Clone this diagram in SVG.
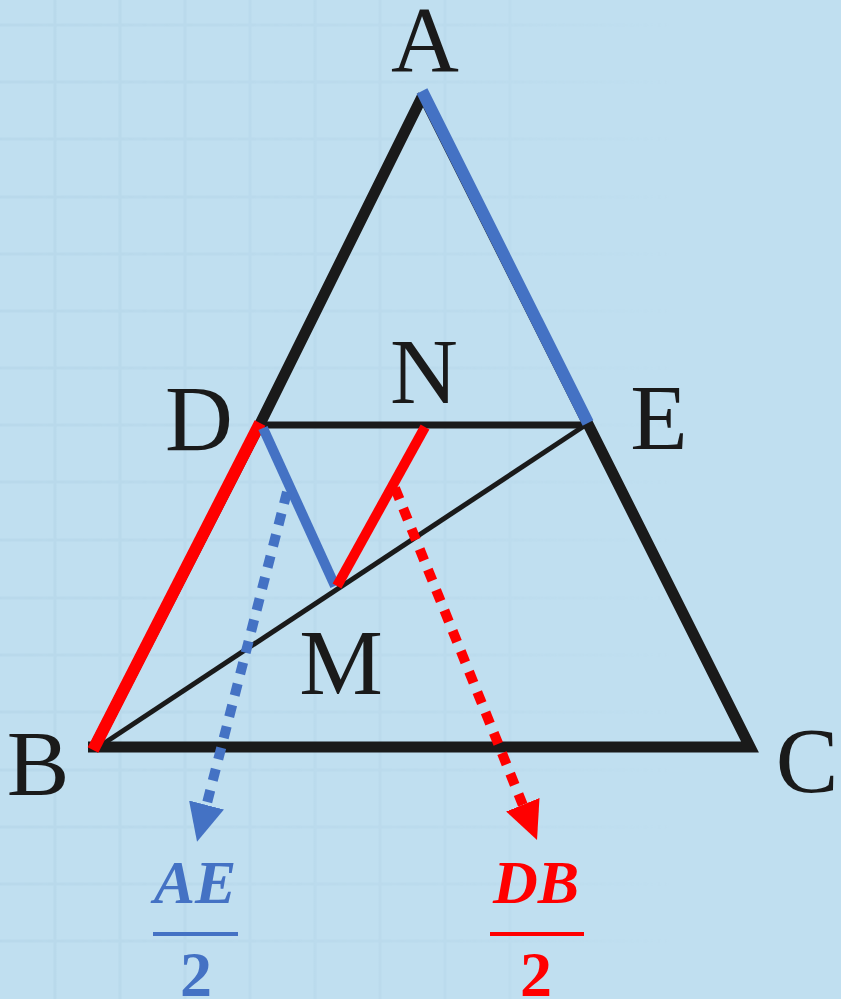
<svg xmlns="http://www.w3.org/2000/svg" width="841" height="999" viewBox="0 0 841 999">
  <defs>
    <style>
      .lbl { font-family: "Liberation Serif", "Times New Roman", serif; font-size: 94px; fill: #1a1a1a; text-anchor: middle; }
      .frac { font-family: "Liberation Serif", "Times New Roman", serif; font-weight: bold; text-anchor: middle; }
      .grid line { stroke: #aed0e4; stroke-width: 3; }
      .blk { stroke: #1a1a1a; fill: none; }
    </style>
    <linearGradient id="fade" x1="0" y1="0" x2="1" y2="0">
      <stop offset="0" stop-color="#fff" stop-opacity="1"/>
      <stop offset="0.55" stop-color="#fff" stop-opacity="0.6"/>
      <stop offset="0.8" stop-color="#fff" stop-opacity="0"/>
    </linearGradient>
    <mask id="gridmask"><rect width="841" height="999" fill="url(#fade)"/></mask>
    <marker id="arrBlue" markerUnits="userSpaceOnUse" markerWidth="40" markerHeight="40" viewBox="0 -20 40 40" refX="0" refY="0" orient="auto">
      <path d="M0,-18 L38,0 L0,18 z" fill="#4472c4"/>
    </marker>
    <marker id="arrRed" markerUnits="userSpaceOnUse" markerWidth="40" markerHeight="40" viewBox="0 -20 40 40" refX="0" refY="0" orient="auto">
      <path d="M0,-18 L38,0 L0,18 z" fill="#ff0000"/>
    </marker>
  </defs>
  <rect width="841" height="999" fill="#c0dff0"/>
  <g class="grid" mask="url(#gridmask)" opacity="0.4">
    <line x1="55" y1="0" x2="55" y2="999"/>
    <line x1="120" y1="0" x2="120" y2="999"/>
    <line x1="185" y1="0" x2="185" y2="999"/>
    <line x1="250" y1="0" x2="250" y2="999"/>
    <line x1="315" y1="0" x2="315" y2="999"/>
    <line x1="380" y1="0" x2="380" y2="999"/>
    <line x1="445" y1="0" x2="445" y2="999"/>
    <line x1="510" y1="0" x2="510" y2="999"/>
    <line x1="0" y1="25" x2="841" y2="25"/>
    <line x1="0" y1="82" x2="841" y2="82"/>
    <line x1="0" y1="139" x2="841" y2="139"/>
    <line x1="0" y1="197" x2="841" y2="197"/>
    <line x1="0" y1="254" x2="841" y2="254"/>
    <line x1="0" y1="311" x2="841" y2="311"/>
    <line x1="0" y1="368" x2="841" y2="368"/>
    <line x1="0" y1="425" x2="841" y2="425"/>
    <line x1="0" y1="482" x2="841" y2="482"/>
    <line x1="0" y1="540" x2="841" y2="540"/>
    <line x1="0" y1="598" x2="841" y2="598"/>
    <line x1="0" y1="655" x2="841" y2="655"/>
    <line x1="0" y1="712" x2="841" y2="712"/>
    <line x1="0" y1="770" x2="841" y2="770"/>
    <line x1="0" y1="827" x2="841" y2="827"/>
    <line x1="0" y1="884" x2="841" y2="884"/>
    <line x1="0" y1="941" x2="841" y2="941"/>
  </g>

  <g id="connectors">
    <path class="blk" d="M88,747 L750,747 L423,95" stroke-width="11" stroke-linejoin="miter"/>
    <path class="blk" d="M423,95 L260,424 L93,750" stroke-width="11"/>
    <line class="blk" x1="260" y1="425" x2="585" y2="425" stroke-width="7"/>
    <line class="blk" x1="100" y1="746" x2="584" y2="426" stroke-width="5"/>
    <line x1="422" y1="91" x2="588" y2="423" stroke="#4472c4" stroke-width="12"/>
    <line x1="260" y1="423" x2="93" y2="750" stroke="#ff0000" stroke-width="12"/>
    <line x1="263" y1="428" x2="335" y2="586" stroke="#4472c4" stroke-width="10"/>
    <line x1="425" y1="427" x2="337" y2="586" stroke="#ff0000" stroke-width="10"/>
    <line x1="287" y1="492" x2="206.5" y2="805" stroke="#4472c4" stroke-width="10" stroke-dasharray="12 10" marker-end="url(#arrBlue)"/>
    <line x1="395" y1="488" x2="522.8" y2="804.8" stroke="#ff0000" stroke-width="10" stroke-dasharray="12 10" marker-end="url(#arrRed)"/>
  </g>

  <g id="node-A"><text class="lbl" x="425" y="71">A</text></g>
  <g id="node-B"><text class="lbl" x="38" y="795">B</text></g>
  <g id="node-C"><text class="lbl" x="807" y="792">C</text></g>
  <g id="node-D"><text class="lbl" x="199" y="450">D</text></g>
  <g id="node-E"><text class="lbl" x="659" y="449">E</text></g>
  <g id="node-N"><text class="lbl" x="424" y="403">N</text></g>
  <g id="node-M"><text class="lbl" x="341" y="694">M</text></g>

  <g id="frac-AE" fill="#4472c4">
    <text class="frac" x="195" y="903" font-size="62" font-style="italic" fill="#4472c4">AE</text>
    <rect x="153" y="932" width="85" height="4"/>
    <text class="frac" x="196" y="996" font-size="64" fill="#4472c4">2</text>
  </g>
  <g id="frac-DB" fill="#ff0000">
    <text class="frac" x="536" y="903" font-size="62" font-style="italic" fill="#ff0000">DB</text>
    <rect x="490" y="932" width="94" height="4"/>
    <text class="frac" x="536" y="996" font-size="64" fill="#ff0000">2</text>
  </g>
</svg>
